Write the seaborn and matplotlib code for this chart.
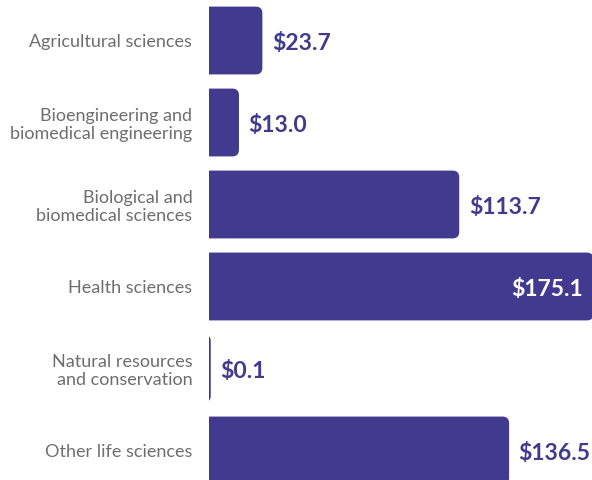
import numpy as np
import pandas as pd
import seaborn as sns
import matplotlib
matplotlib.use("Agg")
import matplotlib.pyplot as plt
from matplotlib.patches import FancyBboxPatch

categories = [
    "Agricultural sciences",
    "Bioengineering and\nbiomedical engineering",
    "Biological and\nbiomedical sciences",
    "Health sciences",
    "Natural resources\nand conservation",
    "Other life sciences",
]
values = [23.7, 13.0, 113.7, 175.1, 0.1, 136.5]
value_labels = ["$23.7", "$13.0", "$113.7", "$175.1", "$0.1", "$136.5"]

bar_color = "#413a8f"
label_color = "#6e6e6e"

sns.set_theme(style="white")
plt.rcParams["font.family"] = ["Lato", "DejaVu Sans"]

df = pd.DataFrame({"category": categories, "value": values})

fig = plt.figure(figsize=(5.92, 4.8), dpi=100)
ax = fig.add_axes([209 / 592, 0, 1 - 209 / 592, 1])

sns.barplot(data=df, y="category", x="value", orient="h", color=bar_color,
            width=0.79, saturation=1, ax=ax)

xmax = 175.1
ax.set_xlim(0, xmax)
ax.set_ylim(5.36, -0.494)

# px per data unit, for rounding the corners evenly
px_x = (592 - 209) / xmax
px_y = 480 / (5.36 + 0.494)
r = 5 / px_x
aspect = px_x / px_y

# swap plain bars for bars with rounded right corners
for p in list(ax.patches):
    x0 = p.get_x()
    y0 = p.get_y()
    w = p.get_width()
    h = p.get_height()
    p.remove()
    rb = FancyBboxPatch((x0 - 2 * r, y0), w + 2 * r, h,
                        boxstyle=f"round,pad=0,rounding_size={r}",
                        mutation_aspect=aspect,
                        facecolor=bar_color, edgecolor=bar_color, linewidth=2.2)
    ax.add_patch(rb)

dy = 3 / px_y  # value labels sit a touch below the bar centre
for i, (v, lab) in enumerate(zip(values, value_labels)):
    if v > 150:
        ax.text(v - 9 / px_x, i + dy, lab, ha="right", va="center", color="white",
                fontsize=16.5, fontweight="bold")
    else:
        ax.text(v + 11 / px_x, i + dy, lab, ha="left", va="center", color=bar_color,
                fontsize=16.5, fontweight="bold")

ax.set_xlabel("")
ax.set_ylabel("")
ax.set_xticks([])
ax.tick_params(axis="y", length=0, pad=12)
for t in ax.get_yticklabels():
    t.set_color(label_color)
    t.set_fontsize(13)
    t.set_fontweight("normal")
    t.set_linespacing(1.12)
sns.despine(ax=ax, left=True, bottom=True)

fig.savefig("out.png", dpi=100)
